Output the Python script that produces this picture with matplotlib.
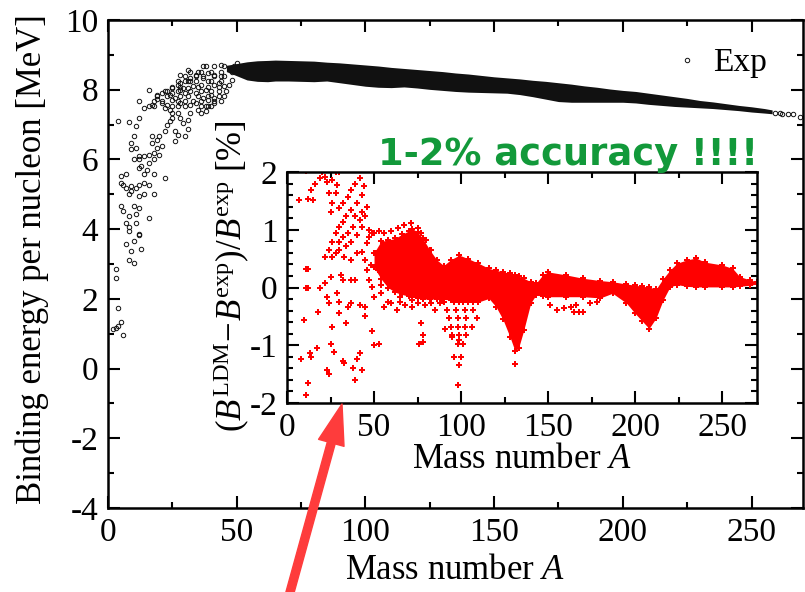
import matplotlib
matplotlib.use('Agg')
import matplotlib.pyplot as plt
from matplotlib.ticker import MultipleLocator

plt.rcParams['font.family'] = 'Liberation Serif'
plt.rcParams['mathtext.fontset'] = 'custom'
plt.rcParams['mathtext.rm'] = 'Liberation Serif'
plt.rcParams['mathtext.it'] = 'Liberation Serif:italic'
plt.rcParams['axes.unicode_minus'] = False

# ---- main panel: experimental binding energy per nucleon ----
# light nuclei, read point by point
light_A = [2, 3, 3, 4, 4, 3, 4, 6, 5, 8, 12, 7, 10, 9, 13, 8, 10, 5, 6, 8, 10, 11, 12, 7, 8, 11, 16, 12,
           8, 12, 16, 14, 12, 11, 10, 9, 9, 11, 12, 12, 10, 13, 12, 14, 16, 16, 15, 14, 5, 7, 5, 6, 7, 9,
           8, 9, 11, 12, 12, 14, 14, 16, 18, 18, 20, 19, 21, 22, 18, 18, 17, 17, 19, 20, 22, 23, 24, 25,
           26, 27, 26, 30, 31, 29, 28, 27, 25, 24, 22, 21, 19, 18, 17, 16, 19, 21, 23, 25, 27, 28, 30, 32,
           34, 33, 31, 30, 28, 26, 25, 23, 27, 28, 30, 32, 34, 36, 35, 32, 31, 38, 37, 39, 40, 41, 43, 43,
           41, 39, 38, 36, 34, 36, 38, 36, 39, 41, 43, 45, 46, 45, 44, 47, 48, 37, 39, 41, 44, 34, 32, 29,
           28, 25, 24, 35, 28, 31, 38, 44, 50,
           37, 41, 45, 49, 53, 57, 32, 36, 40, 44, 48, 52, 30, 34, 37, 41, 45, 27, 31, 40, 44,
           25, 28, 35, 39, 43, 22, 27, 32, 40, 19, 23, 31, 35, 39, 21, 27, 33, 41, 18, 25, 30, 36, 40]
light_B = [1.14, 2.60, 2.86, 7.09, 1.74, 1.17, 1.21, 0.97, 1.33, 3.95, 3.83, 3.57, 3.67, 3.38, 3.43, 3.12,
           3.03, 4.67, 4.52, 4.38, 4.67, 4.43, 4.62, 4.19, 4.05, 4.19, 4.33, 3.86,
           7.08, 7.67, 7.98, 7.48, 7.19, 6.95, 6.67, 6.48, 6.29, 6.33, 6.09, 6.00, 6.00, 5.81, 5.76, 6.09,
           6.12, 5.90, 5.71, 5.57, 5.52, 5.57, 5.33, 5.28, 5.19, 5.24, 5.00, 5.10, 5.19, 4.95, 5.28, 5.33,
           5.00, 5.28, 5.00, 5.57, 6.14, 6.33, 6.38, 5.48, 6.00, 6.19, 6.48, 6.67, 6.57, 6.67, 6.81, 7.00,
           7.09, 7.19, 6.81, 6.71, 6.52, 6.67, 6.86, 7.05, 7.19, 7.33, 7.33, 7.43, 7.48, 7.62, 7.73, 7.67,
           7.57, 7.52, 7.86, 7.90, 7.95, 8.05, 8.14, 8.19, 8.24, 8.33, 8.43, 8.10, 8.05, 7.90, 7.81, 7.76,
           7.71, 7.57, 7.52, 7.62, 7.67, 7.57, 7.62, 7.67, 7.43, 7.33, 7.14, 7.52, 7.76, 7.71, 7.86, 7.76,
           7.81, 7.95, 7.62, 7.52, 7.38, 7.33, 7.90, 7.95, 8.00, 8.14, 8.24, 8.14, 8.19, 8.10, 7.95, 7.81,
           7.67, 8.14, 8.29, 8.33, 8.48, 8.43, 8.38, 8.24, 8.24, 8.05, 8.00, 7.90, 7.86, 8.52, 8.43, 8.57,
           8.67, 8.71, 8.76,
           8.67, 8.67, 8.67, 8.67, 8.67, 8.67, 8.52, 8.52, 8.52, 8.52, 8.52, 8.52, 8.38, 8.38, 8.38, 8.38,
           8.38, 8.24, 8.24, 8.24, 8.24, 8.09, 8.09, 8.09, 8.09, 8.09, 7.95, 7.95, 7.95, 7.95, 7.81, 7.81,
           7.81, 7.81, 7.81, 7.67, 7.67, 7.67, 7.67, 7.52, 7.52, 7.52, 7.52, 7.52]

# dense band (A >= 46): upper and lower edge of the cloud
band_A = [46, 50, 54, 58, 62, 65, 70, 75, 80, 85, 90, 95, 100, 105, 110, 115, 120, 125, 130, 135, 140,
          145, 150, 155, 160, 165, 170, 175, 180, 185, 190, 195, 200, 205, 210, 215, 220, 225, 230, 235,
          240, 245, 250, 255, 258]
band_hi = [8.70, 8.75, 8.80, 8.83, 8.84, 8.85, 8.84, 8.83, 8.82, 8.79, 8.77, 8.74, 8.71, 8.68, 8.64,
           8.61, 8.58, 8.55, 8.52, 8.48, 8.45, 8.41, 8.37, 8.34, 8.31, 8.27, 8.24, 8.20, 8.16, 8.11,
           8.07, 8.02, 7.98, 7.95, 7.90, 7.85, 7.80, 7.75, 7.69, 7.65, 7.60, 7.55, 7.51, 7.46, 7.42]
band_lo = [8.52, 8.40, 8.28, 8.24, 8.23, 8.25, 8.25, 8.24, 8.23, 8.25, 8.20, 8.15, 8.10, 8.07, 8.06,
           8.08, 8.05, 8.01, 7.98, 7.95, 7.93, 7.92, 7.91, 7.90, 7.86, 7.80, 7.73, 7.66, 7.64, 7.64,
           7.64, 7.64, 7.64, 7.62, 7.58, 7.55, 7.52, 7.50, 7.48, 7.46, 7.43, 7.40, 7.36, 7.33, 7.31]
tail_A = [259, 261, 262, 264, 266, 269]
tail_B = [7.34, 7.32, 7.31, 7.31, 7.30, 7.23]

# ---- inset: (B_LDM - B_exp)/B_exp in % ----
dev_A = [11, 7, 12, 15, 14, 16, 19, 22, 23, 20, 28, 30, 26, 29, 28, 24, 26, 25, 30, 32, 35, 37, 39, 42,
         44, 43, 40, 37, 34, 32, 30, 28, 26, 24, 22, 26, 28, 30, 34, 37, 40, 43, 45, 43, 46, 42, 39, 38,
         35, 32, 30, 33, 37, 40, 43, 46, 47, 49, 45, 51, 48,
         11, 12, 11, 12, 19, 22, 25, 23, 29, 30, 24, 18, 10, 30, 35, 37, 39, 31, 32, 37, 34, 26, 45, 45,
         42, 49, 50, 53, 25, 27, 17, 13, 14, 8, 23, 24, 32, 33, 42, 40, 38, 43, 39, 12, 11,
         54, 58, 63, 65, 72, 77, 78, 76, 78, 83, 89,
         90, 96, 101, 107, 92, 97, 102, 107, 93, 98, 103, 109, 94, 98, 102, 106, 95, 99, 103, 98, 101,
         96, 100, 99, 98, 91, 95, 99,
         151, 155, 159, 163, 166, 170, 174, 178, 168, 165, 131,
         47, 50, 53, 56, 60, 64, 67, 71, 75, 77, 80, 83, 86,
         47, 49, 52, 46, 50, 54, 56, 60, 65, 68, 72, 75, 79, 85, 88]
dev_pct = [2.01, 1.52, 1.54, 1.52, 1.69, 1.80, 1.89, 1.92, 1.83, 2.00, 2.00, 2.00, 1.86, 1.78, 1.63,
           1.63, 1.46, 1.31, 1.37, 1.46, 1.57, 1.69, 1.80, 1.89, 1.75, 1.60, 1.46, 1.34, 1.23, 1.14,
           1.05, 0.94, 0.79, 0.65, 0.53, 0.53, 0.59, 0.65, 0.71, 0.79, 0.91, 1.05, 1.23, 1.31, 1.40,
           1.17, 1.23, 1.05, 0.95, 0.88, 0.79, 0.53, 0.48, 0.59, 0.62, 0.77, 0.88, 0.94, 0.48, 0.59, 0.39,
           0.32, 0.32, 0.00, 0.00, -0.01, 0.07, 0.19, -0.16, -0.10, -0.25, -0.27, -0.42, -0.56, -0.45,
           -0.33, -0.27, 0.13, 0.22, 0.13, 0.13, -0.62, -0.68, -0.50, -0.33, -0.30, -0.76, -0.99, -0.97,
           -0.97, -1.11, -1.05, -1.14, -1.20, -1.23, -1.43, -1.49, -1.28, -1.31, -1.14, -1.23, -1.40,
           -1.43, -1.60, -1.66, -1.86,
           -0.10, -0.25, -0.39, -0.16, -0.22, -0.62, -0.82, -0.97, -0.94, -0.27, -0.22,
           -0.25, -0.25, -0.25, -0.25, -0.39, -0.39, -0.39, -0.39, -0.53, -0.53, -0.53, -0.53, -0.68,
           -0.68, -0.68, -0.68, -0.82, -0.82, -0.82, -0.97, -0.97, -1.20, -1.20, -1.34, -1.69, -0.71,
           -0.85, -0.91,
           -0.30, -0.39, -0.36, -0.33, -0.30, -0.42, -0.27, -0.25, -0.42, -0.42, -1.33,
           0.99, 0.94, 0.97, 0.94, 0.97, 1.03, 1.08, 1.11, 1.03, 0.94, 0.82, 0.65, 0.48,
           0.13, 0.01, 0.30, 0.30, -0.16, 0.04, -0.33, -0.27, -0.25, -0.30, -0.33, -0.27, -0.30, -0.39,
           -0.27]

# dense part of the inset cloud: upper and lower edge
ins_A = [50, 54, 58, 62, 66, 70, 72, 75, 78, 82, 86, 90, 94, 99, 104, 110, 116, 120, 124, 128, 131,
         133, 136, 140, 143, 147, 150, 160, 170, 180, 187, 195, 200, 204, 208, 212, 216, 220, 224, 230,
         235, 240, 250, 256, 260, 266, 270]
ins_hi = [0.60, 0.80, 0.82, 0.85, 0.92, 0.98, 1.02, 0.96, 0.85, 0.65, 0.48, 0.38, 0.48, 0.56,
          0.50, 0.42, 0.33, 0.30, 0.27, 0.25, 0.22, 0.20, 0.16, 0.10, 0.07, 0.22, 0.27, 0.22, 0.16,
          0.12, 0.10, 0.06, 0.04, 0.02, 0.01, -0.03, 0.15, 0.30, 0.42, 0.48, 0.51, 0.44, 0.39, 0.33,
          0.19, 0.13, 0.10]
ins_lo = [0.35, 0.15, 0.00, -0.08, -0.12, -0.15, -0.17, -0.18, -0.20, -0.20, -0.20, -0.20,
          -0.22, -0.25, -0.25, -0.25, -0.19, -0.33, -0.55, -0.85, -1.10, -1.05, -0.74, -0.27, -0.13,
          -0.15, -0.16, -0.16, -0.16, -0.18, -0.10, -0.27, -0.45, -0.58, -0.71, -0.53, -0.22, 0.01,
          0.05, 0.02, 0.01, 0.01, 0.01, 0.01, 0.02, 0.04, 0.06]


def style_axes(a, xmaj, xmin, ymaj, ymin):
    a.xaxis.set_major_locator(MultipleLocator(xmaj))
    a.xaxis.set_minor_locator(MultipleLocator(xmin))
    a.yaxis.set_major_locator(MultipleLocator(ymaj))
    a.yaxis.set_minor_locator(MultipleLocator(ymin))
    a.tick_params(which='both', direction='in', top=True, right=True, width=1.5, labelsize=24)
    a.tick_params(which='major', length=8.5, pad=7)
    a.tick_params(which='minor', length=4.5)
    for s in a.spines.values():
        s.set_linewidth(1.8)


fig = plt.figure(figsize=(8.05, 5.92), dpi=100)
ax = fig.add_axes([108 / 805, 84 / 592, 695 / 805, 488 / 592])

circ = dict(ls='none', marker='o', ms=3.2, mfc='none', mec='#111111', mew=0.7)
ax.fill_between(band_A, band_lo, band_hi, color='#111111', lw=0)
ax.plot(tail_A, tail_B, **circ)
ax.plot(light_A, light_B, label='Exp', **circ)

ax.set_xlim(0, 270)
ax.set_ylim(-4, 10)
style_axes(ax, 50, 25, 2, 1)
ax.set_xlabel('Mass number $A$', fontsize=25, labelpad=4)
ax.set_ylabel('Binding energy per nucleon [MeV]', fontsize=25)
ax.yaxis.set_label_coords(-0.085, 0.51)
ax.legend(loc='center left', bbox_to_anchor=(670 / 805, 1 - 63 / 592), bbox_transform=fig.transFigure,
          frameon=False, fontsize=24, handlelength=1.0, handletextpad=0.3, borderpad=0, borderaxespad=0)

# inset
ins = fig.add_axes([287 / 805, 189 / 592, 470 / 805, 231 / 592])
plus = dict(ls='none', marker='P', ms=4.5, color='red', mew=0)
ins.fill_between(ins_A, ins_lo, ins_hi, color='red', lw=0)
ins.plot(ins_A, ins_hi, **plus)
ins.plot(ins_A, ins_lo, **plus)
ins.plot(dev_A, dev_pct, **plus)
ins.set_xlim(0, 270)
ins.set_ylim(-2, 2)
style_axes(ins, 50, 25, 1, 0.2)
ins.tick_params(which='minor', length=4)
ins.set_xlabel('Mass number $A$', fontsize=25, labelpad=0)
ins.set_ylabel(r'$(B^{\mathrm{LDM}}\!-\!B^{\mathrm{exp}})/B^{\mathrm{exp}}$ [%]', fontsize=25)
ins.yaxis.set_label_coords(-0.075, 0.55)

fig.text(378 / 805, 1 - 165 / 592, '1-2% accuracy !!!!', fontsize=26.6, fontweight='bold',
         color='#12993a', family='DejaVu Sans', ha='left', va='baseline')

ins.annotate('', xy=(342, 592 - 404), xycoords='figure pixels',
             xytext=(289, -4), textcoords='figure pixels',
             arrowprops=dict(arrowstyle='simple,head_length=1.45,head_width=0.95,tail_width=0.29',
                             color='#fe3c3c', mutation_scale=20, shrinkA=0, shrinkB=0))

fig.savefig('out.png', dpi=100)
